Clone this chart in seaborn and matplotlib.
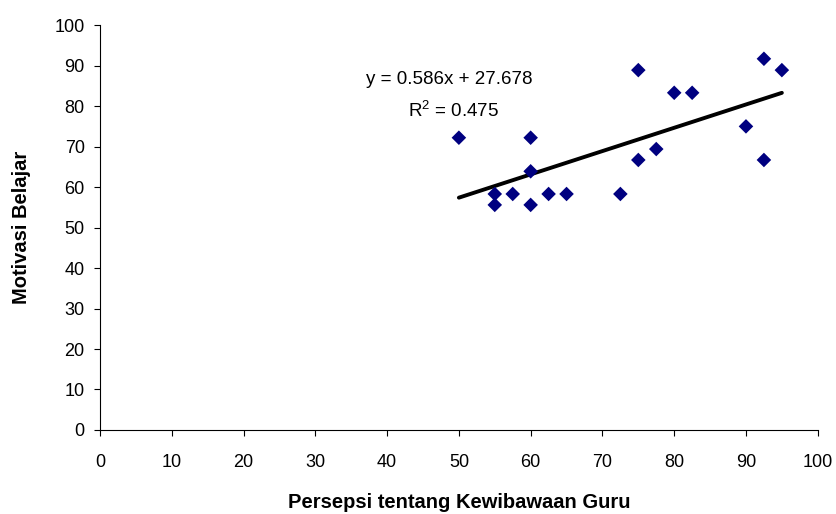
import numpy as np
import pandas as pd
import seaborn as sns
import matplotlib.pyplot as plt

# data
persepsi = [50, 55, 55, 57.5, 60, 60, 60, 62.5, 65, 72.5,
            75, 75, 77.5, 80, 82.5, 90, 92.5, 92.5, 95]
motivasi = [72.2, 58.3, 55.6, 58.3, 72.2, 63.9, 55.6, 58.3, 58.3, 58.3,
            88.9, 66.7, 69.4, 83.3, 83.3, 75.0, 91.7, 66.7, 88.9]
x_ticks = list(range(0, 101, 10))
y_ticks = list(range(0, 101, 10))

df = pd.DataFrame({'x': persepsi, 'y': motivasi})

sns.set_style('ticks')
plt.rcParams['font.family'] = ['Liberation Sans', 'DejaVu Sans']
plt.rcParams['text.color'] = 'black'
plt.rcParams['axes.labelcolor'] = 'black'
plt.rcParams['xtick.color'] = 'black'
plt.rcParams['ytick.color'] = 'black'

fig = plt.figure(figsize=(8.37, 5.14), dpi=100)
ax = fig.add_axes([0.1195, 0.1635, 0.8575, 0.7875])

sns.regplot(data=df, x='x', y='y', ci=None, ax=ax,
            marker='D',
            scatter_kws={'color': '#000080', 's': 55, 'alpha': 1,
                         'edgecolor': 'none', 'zorder': 3},
            line_kws={'color': 'black', 'lw': 2.8, 'zorder': 2})

ax.set_xlim(0, 100)
ax.set_ylim(0, 100)
ax.set_xticks(x_ticks)
ax.set_yticks(y_ticks)
ax.tick_params(axis='both', labelsize=13, length=4, width=0.8)
ax.tick_params(axis='x', pad=13)
ax.tick_params(axis='y', pad=7)
for s in ['top', 'right']:
    ax.spines[s].set_visible(False)
for s in ['left', 'bottom']:
    ax.spines[s].set_linewidth(0.8)
    ax.spines[s].set_color('black')

xl = ax.set_xlabel('Persepsi tentang Kewibawaan Guru', fontsize=14.5, fontweight='bold')
yl = ax.set_ylabel('Motivasi Belajar', fontsize=14.5, fontweight='bold')
xl.set_va('center')
yl.set_va('center')
ax.xaxis.set_label_coords(0.5, -0.178)
ax.yaxis.set_label_coords(-0.110, 0.5)

ax.text(48.7, 86.6, 'y = 0.586x + 27.678', fontsize=13.5, ha='center', va='center')
ax.text(49.2, 78.9, '$\\mathregular{R^2}$ = 0.475', fontsize=13.5, ha='center', va='center')

fig.savefig('out.png', dpi=100)
